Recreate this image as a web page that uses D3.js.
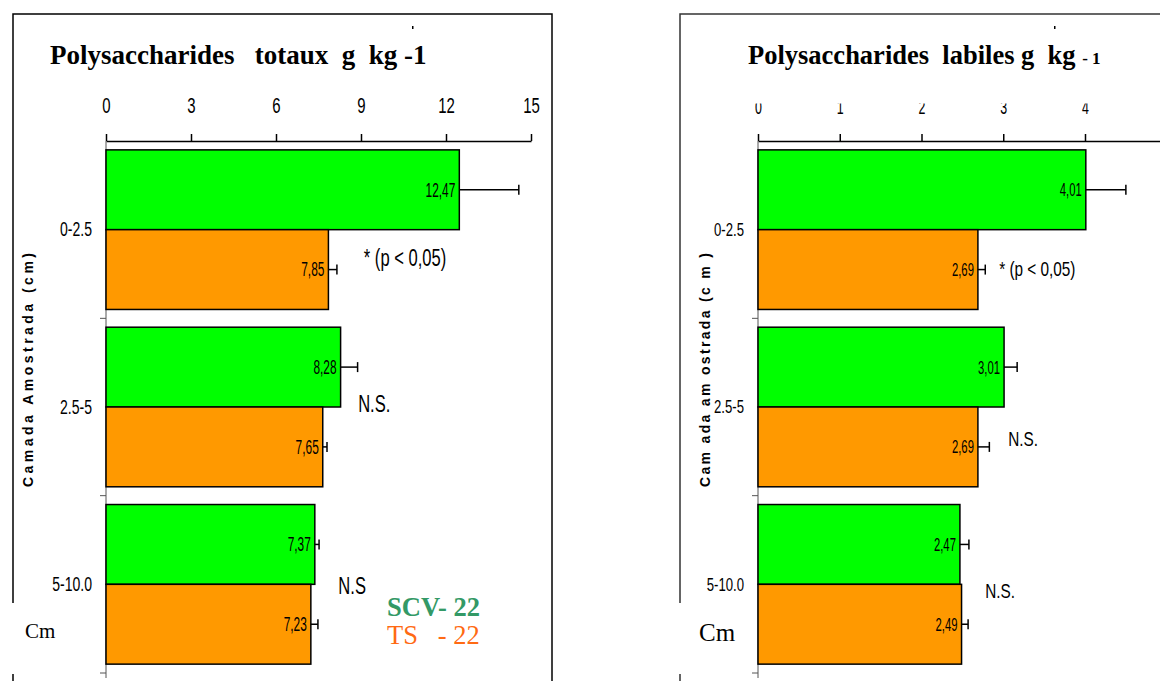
<!DOCTYPE html>
<html>
<head>
<meta charset="utf-8">
<script src="https://cdn.jsdelivr.net/npm/d3@7"></script>
<style>
  html, body { margin: 0; padding: 0; background: #fff; }
  svg { display: block; }
  .narrow { font-family: "Liberation Sans", Arial, sans-serif; }
</style>
</head>
<body>
<svg id="chart" width="1160" height="681"></svg>
<script>
// ---------- data ----------
const categories = ["0-2.5", "2.5-5", "5-10.0"];
const seriesNames = ["SCV- 22", "TS   - 22"];

const totauxSCV = [12.47, 8.28, 7.37];
const totauxTS = [7.85, 7.65, 7.23];
const totauxSCVErr = [2.1, 0.6, 0.15];
const totauxTSErr = [0.3, 0.15, 0.25];
const totauxTicks = [0, 3, 6, 9, 12, 15];
const totauxNotes = ["* (p < 0,05)", "N.S.", "N.S"];
const totauxNoteX = [9.1, 8.9, 8.2];

const labilesSCV = [4.01, 3.01, 2.47];
const labilesTS = [2.69, 2.69, 2.49];
const labilesSCVErr = [0.49, 0.16, 0.11];
const labilesTSErr = [0.09, 0.14, 0.08];
const labilesTicks = [0, 1, 2, 3, 4];
const labilesNotes = ["* (p < 0,05)", "N.S.", "N.S."];
const labilesNoteX = [2.95, 3.06, 2.78];

// ---------- drawing ----------
const svg = d3.select("#chart");
const colors = { SCV: "#00ff00", TS: "#ff9900" };
const fmt = v => v.toFixed(2).replace(".", ",");
const serif = "'Liberation Serif', 'Times New Roman', serif";

function panel(cfg) {
  const g = svg.append("g");

  // frame
  g.append("rect")
    .attr("x", cfg.frame[0]).attr("y", cfg.frame[1])
    .attr("width", cfg.frame[2]).attr("height", cfg.frame[3])
    .attr("fill", "none").attr("stroke", cfg.frameColor).attr("stroke-width", 1.5);

  // title
  const t = g.append("text")
    .attr("x", cfg.titleX).attr("y", 64)
    .attr("font-family", serif)
    .attr("font-weight", "bold").attr("font-size", cfg.titleSize)
    .style("white-space", "pre");
  t.append("tspan").text(cfg.title);
  t.append("tspan").attr("font-size", cfg.suffixSize).text(cfg.titleSuffix);

  // tiny mark above the title
  g.append("rect").attr("x", cfg.dotX).attr("y", 26).attr("width", 1.5).attr("height", 3).attr("fill", "#000");

  const x = d3.scaleLinear().domain(cfg.domain).range(cfg.range);
  const y = d3.scaleBand().domain(categories).range([141, 673]).paddingInner(0.1).paddingOuter(0.05);
  const ys = d3.scaleBand().domain(["SCV", "TS"]).range([0, y.bandwidth()]);

  // x axis on top (labels optionally clipped at the top)
  const clipId = "clip" + cfg.id;
  svg.append("clipPath").attr("id", clipId).append("rect")
    .attr("x", 0).attr("y", cfg.tickClipY).attr("width", 1160).attr("height", 681);

  const outer = g.append("g").attr("clip-path", "url(#" + clipId + ")");
  const xa = outer.append("g").attr("transform", "translate(0,141)")
    .call(d3.axisTop(x).tickValues(cfg.ticks).tickFormat(d3.format("d"))
      .tickSize(7).tickSizeOuter(0).tickPadding(cfg.tickPad));
  xa.select(".domain").attr("stroke", "#000").attr("stroke-width", 1.5);
  xa.selectAll(".tick line").attr("stroke", "#000").attr("stroke-width", 1.5);
  xa.selectAll(".tick text")
    .attr("class", "narrow").attr("data-sq", cfg.tickSq)
    .attr("font-size", cfg.tickSize).attr("fill", "#000");

  // y axis line and ticks
  g.append("line").attr("x1", x(0)).attr("x2", x(0)).attr("y1", 141).attr("y2", 678)
    .attr("stroke", "#555").attr("stroke-width", 1);
  categories.forEach((c) => {
    const yb = y(c) + y.bandwidth() + y.step() * 0.05;
    g.append("line").attr("x1", x(0) - 6).attr("x2", x(0)).attr("y1", yb).attr("y2", yb)
      .attr("stroke", "#555").attr("stroke-width", 1);
  });

  // category labels
  g.selectAll(".cat").data(categories).join("text")
    .attr("class", "narrow").attr("data-sq", cfg.catSq)
    .attr("x", x(0) - 14).attr("y", d => y(d) + y.bandwidth() / 2)
    .attr("dy", "0.35em").attr("text-anchor", "end").attr("font-size", cfg.catSize)
    .text(d => d);

  // bars
  const rows = [];
  categories.forEach((c, i) => {
    rows.push({ cat: c, s: "SCV", v: cfg.scv[i], e: cfg.scvErr[i] });
    rows.push({ cat: c, s: "TS", v: cfg.ts[i], e: cfg.tsErr[i] });
  });

  g.selectAll(".bar").data(rows).join("rect")
    .attr("x", x(0)).attr("y", d => y(d.cat) + ys(d.s))
    .attr("width", d => x(d.v) - x(0)).attr("height", ys.bandwidth())
    .attr("fill", d => colors[d.s]).attr("stroke", "#000").attr("stroke-width", 1.5);

  // error bars
  rows.forEach(d => {
    const cy = y(d.cat) + ys(d.s) + ys.bandwidth() / 2;
    g.append("line").attr("x1", x(d.v)).attr("x2", x(d.v + d.e)).attr("y1", cy).attr("y2", cy)
      .attr("stroke", "#000").attr("stroke-width", 1.5);
    g.append("line").attr("x1", x(d.v + d.e)).attr("x2", x(d.v + d.e)).attr("y1", cy - 5).attr("y2", cy + 5)
      .attr("stroke", "#000").attr("stroke-width", 1.5);
  });

  // value labels
  g.selectAll(".val").data(rows).join("text")
    .attr("class", "narrow").attr("data-sq", cfg.valSq)
    .attr("x", d => x(d.v) - 4).attr("y", d => y(d.cat) + ys(d.s) + ys.bandwidth() / 2)
    .attr("dy", "0.35em").attr("text-anchor", "end").attr("font-size", cfg.valSize)
    .text(d => fmt(d.v));

  // significance notes
  categories.forEach((c, i) => {
    g.append("text").attr("class", "narrow").attr("data-sq", cfg.noteSq)
      .attr("x", x(cfg.noteX[i])).attr("y", y(c) + y.bandwidth() * cfg.noteY[i])
      .attr("dy", "0.35em").attr("font-size", cfg.noteSize)
      .style("white-space", "pre")
      .text(cfg.notes[i]);
  });

  // y axis title
  g.append("text")
    .attr("transform", `translate(${cfg.yLabelX},370) rotate(-90)`)
    .attr("text-anchor", "middle").attr("dy", "0.35em")
    .attr("font-family", "'Liberation Sans', Arial, sans-serif")
    .attr("font-weight", "bold").attr("font-size", 14)
    .attr("textLength", 234).attr("lengthAdjust", "spacing")
    .style("white-space", "pre")
    .text(cfg.yLabel);

  // Cm box
  g.append("rect").attr("x", cfg.cmBox[0]).attr("y", 603).attr("width", cfg.cmBox[1]).attr("height", 71)
    .attr("fill", "#fff");
  g.append("text").attr("x", cfg.cmX).attr("y", cfg.cmY)
    .attr("font-family", serif)
    .attr("font-size", cfg.cmSize).text("Cm");

  return g;
}

panel({
  id: "L", frame: [13, 14, 539, 700], frameColor: "#000",
  title: "Polysaccharides   totaux  g  kg -1", titleSuffix: "", suffixSize: 27, titleSize: 27, titleX: 50, dotX: 412,
  domain: [0, 15], range: [106, 531], ticks: totauxTicks, tickSize: 22, tickSq: 0.68, tickPad: 21, tickClipY: 0,
  scv: totauxSCV, ts: totauxTS, scvErr: totauxSCVErr, tsErr: totauxTSErr,
  catSize: 19.5, catSq: 0.72, valSize: 19.5, valSq: 0.61, noteSize: 23, noteSq: 0.72,
  notes: totauxNotes, noteX: totauxNoteX, noteY: [0.68, 0.48, 0.51],
  yLabel: "Camada Amostrada (cm)", yLabelX: 28,
  cmBox: [0, 100], cmX: 25, cmY: 638, cmSize: 21
});

panel({
  id: "R", frame: [680, 14, 600, 700], frameColor: "#333",
  title: "Polysaccharides  labiles g  kg ", titleSuffix: "- 1", suffixSize: 17, titleSize: 26.5, titleX: 748, dotX: 1054,
  domain: [0, 5], range: [758, 1166.75], ticks: labilesTicks, tickSize: 20, tickSq: 0.62, tickPad: 20, tickClipY: 103.5,
  scv: labilesSCV, ts: labilesTS, scvErr: labilesSCVErr, tsErr: labilesTSErr,
  catSize: 18.5, catSq: 0.71, valSize: 18.5, valSq: 0.61, noteSize: 21, noteSq: 0.73,
  notes: labilesNotes, noteX: labilesNoteX, noteY: [0.745, 0.70, 0.54],
  yLabel: "Cam ada am ostrada (c m )", yLabelX: 705,
  cmBox: [672, 80], cmX: 699, cmY: 641, cmSize: 25
});

// legend
const legend = svg.append("g").attr("font-family", serif).attr("font-size", 26.5);
legend.append("text").attr("x", 387).attr("y", 616).attr("font-weight", "bold").attr("fill", "#339966")
  .style("white-space", "pre").text(seriesNames[0]);
legend.append("text").attr("x", 387).attr("y", 644).attr("fill", "#ff6a13")
  .style("white-space", "pre").text(seriesNames[1]);

// emulate a narrow sans face by compressing the glyphs horizontally
svg.selectAll("text.narrow").each(function () {
  const sq = +this.getAttribute("data-sq") || 0.75;
  const len = this.getComputedTextLength();
  d3.select(this).attr("textLength", len * sq).attr("lengthAdjust", "spacingAndGlyphs");
});
</script>
</body>
</html>
